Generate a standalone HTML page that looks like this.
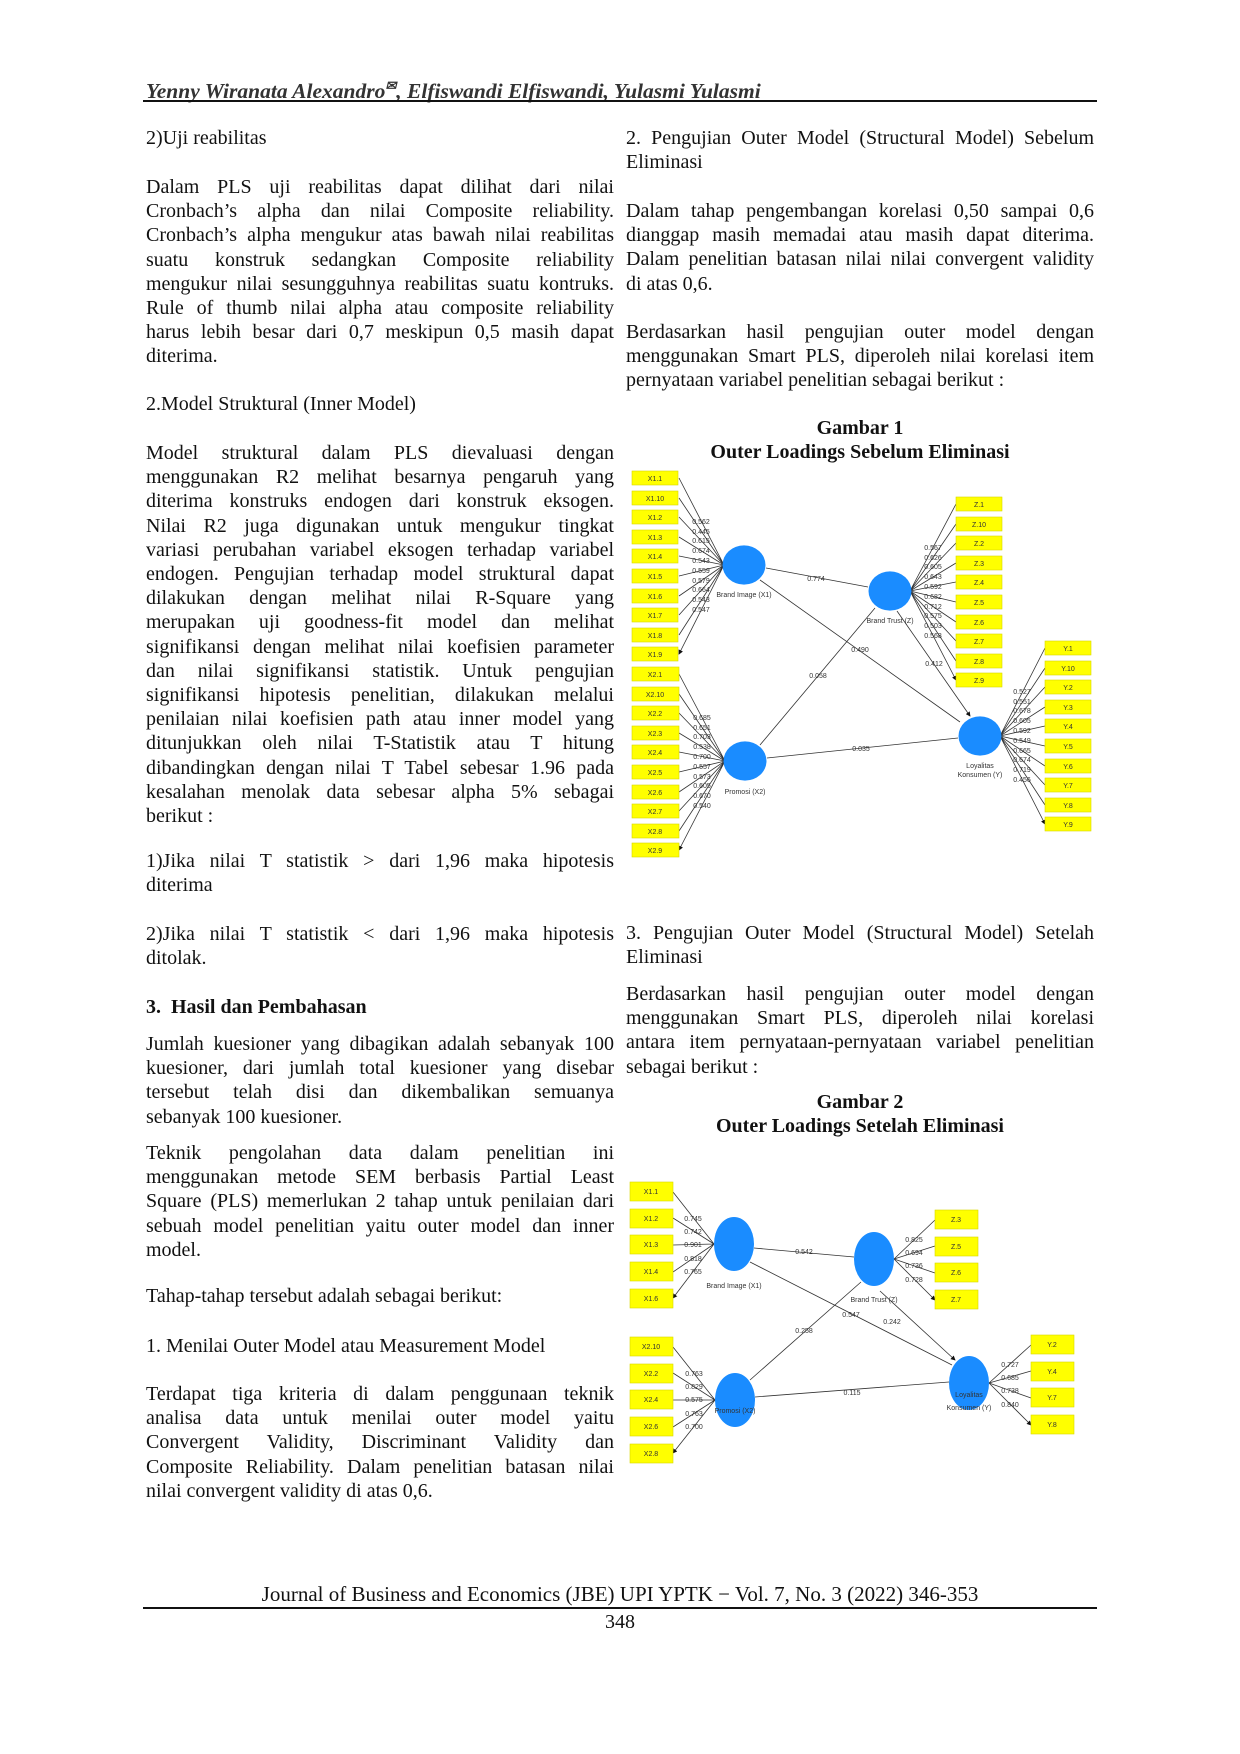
<!DOCTYPE html>
<html><head><meta charset="utf-8"><style>
body{margin:0;background:#fff}
#p{position:relative;width:1240px;height:1754px;overflow:hidden;font-family:"Liberation Serif",serif;font-size:20px;color:#111}
.b{position:absolute;line-height:24.2px}
.L{left:146px;width:468px}
.R{left:626px;width:468px}
.b div{white-space:nowrap}
.b div.j{text-align:justify;text-align-last:justify}
.c{text-align:center;font-weight:bold}
svg{position:absolute;left:0;top:0}
</style></head><body><div id="p">
<div class="b" style="left:146px;top:74px;font-style:italic;font-weight:bold;font-size:21.5px;color:#333">Yenny Wiranata Alexandro<sup style="font-size:13px">✉</sup>, Elfiswandi Elfiswandi, Yulasmi Yulasmi</div>
<div style="position:absolute;left:143px;top:100px;width:954px;height:2px;background:#111"></div>

<div class="b L" style="top:126px"><div>2)Uji reabilitas</div></div>
<div class="b L" style="top:175px">
<div class="j">Dalam PLS uji reabilitas dapat dilihat dari nilai</div>
<div class="j">Cronbach’s alpha dan nilai Composite reliability.</div>
<div class="j">Cronbach’s alpha mengukur atas bawah nilai reabilitas</div>
<div class="j">suatu konstruk sedangkan Composite reliability</div>
<div class="j">mengukur nilai sesungguhnya reabilitas suatu kontruks.</div>
<div class="j">Rule of thumb nilai alpha atau composite reliability</div>
<div class="j">harus lebih besar dari 0,7 meskipun 0,5 masih dapat</div>
<div>diterima.</div></div>
<div class="b L" style="top:392px"><div>2.Model Struktural (Inner Model)</div></div>
<div class="b L" style="top:441px">
<div class="j">Model struktural dalam PLS dievaluasi dengan</div>
<div class="j">menggunakan R2 melihat besarnya pengaruh yang</div>
<div class="j">diterima konstruks endogen dari konstruk eksogen.</div>
<div class="j">Nilai R2 juga digunakan untuk mengukur tingkat</div>
<div class="j">variasi perubahan variabel eksogen terhadap variabel</div>
<div class="j">endogen. Pengujian terhadap model struktural dapat</div>
<div class="j">dilakukan dengan melihat nilai R-Square yang</div>
<div class="j">merupakan uji goodness-fit model dan melihat</div>
<div class="j">signifikansi dengan melihat nilai koefisien parameter</div>
<div class="j">dan nilai signifikansi statistik. Untuk pengujian</div>
<div class="j">signifikansi hipotesis penelitian, dilakukan melalui</div>
<div class="j">penilaian nilai koefisien path atau inner model yang</div>
<div class="j">ditunjukkan oleh nilai T-Statistik atau T hitung</div>
<div class="j">dibandingkan dengan nilai T Tabel sebesar 1.96 pada</div>
<div class="j">kesalahan menolak data sebesar alpha 5% sebagai</div>
<div>berikut :</div></div>
<div class="b L" style="top:849px"><div class="j">1)Jika nilai T statistik &gt; dari 1,96 maka hipotesis</div><div>diterima</div></div>
<div class="b L" style="top:922px"><div class="j">2)Jika nilai T statistik &lt; dari 1,96 maka hipotesis</div><div>ditolak.</div></div>
<div class="b L" style="top:995px;font-weight:bold"><div>3.&nbsp; Hasil dan Pembahasan</div></div>
<div class="b L" style="top:1032px">
<div class="j">Jumlah kuesioner yang dibagikan adalah sebanyak 100</div>
<div class="j">kuesioner, dari jumlah total kuesioner yang disebar</div>
<div class="j">tersebut telah disi dan dikembalikan semuanya</div>
<div>sebanyak 100 kuesioner.</div></div>
<div class="b L" style="top:1141px">
<div class="j">Teknik pengolahan data dalam penelitian ini</div>
<div class="j">menggunakan metode SEM berbasis Partial Least</div>
<div class="j">Square (PLS) memerlukan 2 tahap untuk penilaian dari</div>
<div class="j">sebuah model penelitian yaitu outer model dan inner</div>
<div>model.</div></div>
<div class="b L" style="top:1284px"><div>Tahap-tahap tersebut adalah sebagai berikut:</div></div>
<div class="b L" style="top:1334px"><div>1. Menilai Outer Model atau Measurement Model</div></div>
<div class="b L" style="top:1382px">
<div class="j">Terdapat tiga kriteria di dalam penggunaan teknik</div>
<div class="j">analisa data untuk menilai outer model yaitu</div>
<div class="j">Convergent Validity, Discriminant Validity dan</div>
<div class="j">Composite Reliability. Dalam penelitian batasan nilai</div>
<div>nilai convergent validity di atas 0,6.</div></div>

<div class="b R" style="top:126px"><div class="j">2. Pengujian Outer Model (Structural Model) Sebelum</div><div>Eliminasi</div></div>
<div class="b R" style="top:199px">
<div class="j">Dalam tahap pengembangan korelasi 0,50 sampai 0,6</div>
<div class="j">dianggap masih memadai atau masih dapat diterima.</div>
<div class="j">Dalam penelitian batasan nilai nilai convergent validity</div>
<div>di atas 0,6.</div></div>
<div class="b R" style="top:320px">
<div class="j">Berdasarkan hasil pengujian outer model dengan</div>
<div class="j">menggunakan Smart PLS, diperoleh nilai korelasi item</div>
<div>pernyataan variabel penelitian sebagai berikut :</div></div>
<div class="b R c" style="top:416px"><div>Gambar 1</div><div>Outer Loadings Sebelum Eliminasi</div></div>
<div class="b R" style="top:921px"><div class="j">3. Pengujian Outer Model (Structural Model) Setelah</div><div>Eliminasi</div></div>
<div class="b R" style="top:982px">
<div class="j">Berdasarkan hasil pengujian outer model dengan</div>
<div class="j">menggunakan Smart PLS, diperoleh nilai korelasi</div>
<div class="j">antara item pernyataan-pernyataan variabel penelitian</div>
<div>sebagai berikut :</div></div>
<div class="b R c" style="top:1090px"><div>Gambar 2</div><div>Outer Loadings Setelah Eliminasi</div></div>

<div class="b" style="left:0;width:1240px;text-align:center;top:1582px;font-size:21px"><div>Journal of Business and Economics (JBE) UPI YPTK − Vol. 7, No. 3 (2022) 346-353</div></div>
<div style="position:absolute;left:143px;top:1607px;width:954px;height:2px;background:#111"></div>
<div class="b" style="left:0;width:1240px;text-align:center;top:1610px"><div>348</div></div>

<svg width="1240" height="1754" font-family="Liberation Sans, sans-serif">
<defs><marker id="a" markerWidth="6" markerHeight="6" refX="5" refY="3" orient="auto"><path d="M0,0L6,3L0,6z" fill="#111"/></marker></defs>
<g stroke="#333" stroke-width="0.8" marker-end="url(#a)" fill="none">
<path d="M724 565L679 478M724 565L679 498M724 565L679 517M724 565L679 537M724 565L679 556M724 565L679 576M724 565L679 596M724 565L679 615M724 565L679 635M724 565L679 654"/>
<path d="M725 761L679 674M725 761L679 694M725 761L679 713M725 761L679 733M725 761L679 752M725 761L679 772M725 761L679 792M725 761L679 811M725 761L679 831M725 761L679 850"/>
<path d="M910 591L956 504M910 591L956 524M910 591L956 543M910 591L956 563M910 591L956 582M910 591L956 602M910 591L956 622M910 591L956 641M910 591L956 661M910 591L956 680"/>
<path d="M1000 736L1045 648M1000 736L1045 668M1000 736L1045 687M1000 736L1045 707M1000 736L1045 726M1000 736L1045 746M1000 736L1045 766M1000 736L1045 785M1000 736L1045 805M1000 736L1045 824"/>
<path d="M766 568L868 587M760 580L960 722M760 745L875 608M767 758L958 738M897 611L970 716"/>
<path d="M714 1244L673 1192M714 1244L673 1218M714 1244L673 1245M714 1244L673 1272M714 1244L673 1298"/>
<path d="M715 1400L673 1347M715 1400L673 1373M715 1400L673 1400M715 1400L673 1427M715 1400L673 1453"/>
<path d="M894 1259L935 1220M894 1259L935 1246M894 1259L935 1273M894 1259L935 1300"/>
<path d="M989 1383L1031 1345M989 1383L1031 1371M989 1383L1031 1398M989 1383L1031 1425"/>
<path d="M754 1248L854 1257M750 1262L952 1365M750 1380L861 1282M755 1397L949 1382M880 1291L955 1360"/>
</g>
<g fill="#1a8cff">
<ellipse cx="744" cy="565" rx="21.5" ry="19.6"/><ellipse cx="890" cy="591" rx="21.5" ry="19.6"/><ellipse cx="745" cy="761" rx="21.5" ry="19.6"/><ellipse cx="980" cy="736" rx="21.5" ry="19.6"/>
<ellipse cx="734" cy="1244" rx="20" ry="27"/><ellipse cx="874" cy="1259" rx="20" ry="27"/><ellipse cx="735" cy="1400" rx="20" ry="27"/><ellipse cx="969" cy="1383" rx="20" ry="27"/>
</g>
<g fill="#ffff00" stroke="#d8d800" stroke-width="0.6">
<rect x="632" y="471" width="46" height="14"/><rect x="632" y="491" width="46" height="14"/><rect x="632" y="510" width="46" height="14"/><rect x="632" y="530" width="46" height="14"/><rect x="632" y="549" width="46" height="14"/><rect x="632" y="569" width="46" height="14"/><rect x="632" y="589" width="46" height="14"/><rect x="632" y="608" width="46" height="14"/><rect x="632" y="628" width="46" height="14"/><rect x="632" y="647" width="46" height="14"/>
<rect x="632" y="667" width="47" height="14"/><rect x="632" y="687" width="47" height="14"/><rect x="632" y="706" width="47" height="14"/><rect x="632" y="726" width="47" height="14"/><rect x="632" y="745" width="47" height="14"/><rect x="632" y="765" width="47" height="14"/><rect x="632" y="785" width="47" height="14"/><rect x="632" y="804" width="47" height="14"/><rect x="632" y="824" width="47" height="14"/><rect x="632" y="843" width="47" height="14"/>
<rect x="956" y="497" width="46" height="14"/><rect x="956" y="517" width="46" height="14"/><rect x="956" y="536" width="46" height="14"/><rect x="956" y="556" width="46" height="14"/><rect x="956" y="575" width="46" height="14"/><rect x="956" y="595" width="46" height="14"/><rect x="956" y="615" width="46" height="14"/><rect x="956" y="634" width="46" height="14"/><rect x="956" y="654" width="46" height="14"/><rect x="956" y="673" width="46" height="14"/>
<rect x="1045" y="641" width="46" height="14"/><rect x="1045" y="661" width="46" height="14"/><rect x="1045" y="680" width="46" height="14"/><rect x="1045" y="700" width="46" height="14"/><rect x="1045" y="719" width="46" height="14"/><rect x="1045" y="739" width="46" height="14"/><rect x="1045" y="759" width="46" height="14"/><rect x="1045" y="778" width="46" height="14"/><rect x="1045" y="798" width="46" height="14"/><rect x="1045" y="817" width="46" height="14"/>
<rect x="630" y="1182" width="43" height="19"/><rect x="630" y="1209" width="43" height="19"/><rect x="630" y="1235" width="43" height="19"/><rect x="630" y="1262" width="43" height="19"/><rect x="630" y="1289" width="43" height="19"/>
<rect x="630" y="1337" width="43" height="19"/><rect x="630" y="1364" width="43" height="19"/><rect x="630" y="1390" width="43" height="19"/><rect x="630" y="1417" width="43" height="19"/><rect x="630" y="1444" width="43" height="19"/>
<rect x="935" y="1210" width="43" height="19"/><rect x="935" y="1237" width="43" height="19"/><rect x="935" y="1263" width="43" height="19"/><rect x="935" y="1290" width="43" height="19"/>
<rect x="1031" y="1335" width="43" height="19"/><rect x="1031" y="1362" width="43" height="19"/><rect x="1031" y="1388" width="43" height="19"/><rect x="1031" y="1415" width="43" height="19"/>
</g>
<g font-size="7" fill="#333" text-anchor="middle">
<text x="655" y="481">X1.1</text><text x="655" y="501">X1.10</text><text x="655" y="520">X1.2</text><text x="655" y="540">X1.3</text><text x="655" y="559">X1.4</text><text x="655" y="579">X1.5</text><text x="655" y="599">X1.6</text><text x="655" y="618">X1.7</text><text x="655" y="638">X1.8</text><text x="655" y="657">X1.9</text>
<text x="655" y="677">X2.1</text><text x="655" y="697">X2.10</text><text x="655" y="716">X2.2</text><text x="655" y="736">X2.3</text><text x="655" y="755">X2.4</text><text x="655" y="775">X2.5</text><text x="655" y="795">X2.6</text><text x="655" y="814">X2.7</text><text x="655" y="834">X2.8</text><text x="655" y="853">X2.9</text>
<text x="979" y="507">Z.1</text><text x="979" y="527">Z.10</text><text x="979" y="546">Z.2</text><text x="979" y="566">Z.3</text><text x="979" y="585">Z.4</text><text x="979" y="605">Z.5</text><text x="979" y="625">Z.6</text><text x="979" y="644">Z.7</text><text x="979" y="664">Z.8</text><text x="979" y="683">Z.9</text>
<text x="1068" y="651">Y.1</text><text x="1068" y="671">Y.10</text><text x="1068" y="690">Y.2</text><text x="1068" y="710">Y.3</text><text x="1068" y="729">Y.4</text><text x="1068" y="749">Y.5</text><text x="1068" y="769">Y.6</text><text x="1068" y="788">Y.7</text><text x="1068" y="808">Y.8</text><text x="1068" y="827">Y.9</text>
<text x="651" y="1194">X1.1</text><text x="651" y="1221">X1.2</text><text x="651" y="1247">X1.3</text><text x="651" y="1274">X1.4</text><text x="651" y="1301">X1.6</text>
<text x="651" y="1349">X2.10</text><text x="651" y="1376">X2.2</text><text x="651" y="1402">X2.4</text><text x="651" y="1429">X2.6</text><text x="651" y="1456">X2.8</text>
<text x="956" y="1222">Z.3</text><text x="956" y="1249">Z.5</text><text x="956" y="1275">Z.6</text><text x="956" y="1302">Z.7</text>
<text x="1052" y="1347">Y.2</text><text x="1052" y="1374">Y.4</text><text x="1052" y="1400">Y.7</text><text x="1052" y="1427">Y.8</text>
<text x="701" y="524">0.562</text><text x="701" y="534">0.445</text><text x="701" y="543">0.615</text><text x="701" y="553">0.674</text><text x="701" y="563">0.543</text><text x="701" y="573">0.559</text><text x="701" y="583">0.579</text><text x="701" y="592">0.664</text><text x="701" y="602">0.543</text><text x="701" y="612">0.547</text>
<text x="702" y="720">0.685</text><text x="702" y="730">0.651</text><text x="702" y="739">0.703</text><text x="702" y="749">0.538</text><text x="702" y="759">0.700</text><text x="702" y="769">0.557</text><text x="702" y="779">0.573</text><text x="702" y="788">0.605</text><text x="702" y="798">0.670</text><text x="702" y="808">0.540</text>
<text x="933" y="550">0.567</text><text x="933" y="560">0.626</text><text x="933" y="569">0.605</text><text x="933" y="579">0.643</text><text x="933" y="589">0.592</text><text x="933" y="599">0.682</text><text x="933" y="609">0.712</text><text x="933" y="618">0.575</text><text x="933" y="628">0.503</text><text x="933" y="638">0.568</text>
<text x="1022" y="694">0.527</text><text x="1022" y="704">0.551</text><text x="1022" y="713">0.678</text><text x="1022" y="723">0.605</text><text x="1022" y="733">0.592</text><text x="1022" y="743">0.549</text><text x="1022" y="753">0.665</text><text x="1022" y="762">0.674</text><text x="1022" y="772">0.719</text><text x="1022" y="782">0.456</text>
<text x="693" y="1221">0.745</text><text x="693" y="1234">0.742</text><text x="693" y="1247">0.901</text><text x="693" y="1261">0.818</text><text x="693" y="1274">0.765</text>
<text x="694" y="1376">0.763</text><text x="694" y="1389">0.829</text><text x="694" y="1402">0.575</text><text x="694" y="1416">0.763</text><text x="694" y="1429">0.700</text>
<text x="914" y="1242">0.825</text><text x="914" y="1255">0.694</text><text x="914" y="1268">0.736</text><text x="914" y="1282">0.728</text>
<text x="1010" y="1367">0.727</text><text x="1010" y="1380">0.685</text><text x="1010" y="1393">0.738</text><text x="1010" y="1407">0.840</text>
<text x="816" y="581">0.774</text><text x="860" y="652">0.490</text><text x="818" y="678">0.058</text><text x="934" y="666">0.412</text><text x="861" y="751">0.035</text>
<text x="804" y="1254">0.542</text><text x="851" y="1317">0.547</text><text x="804" y="1333">0.258</text><text x="892" y="1324">0.242</text><text x="852" y="1395">0.115</text>
<text x="744" y="597">Brand Image (X1)</text><text x="890" y="623">Brand Trust (Z)</text><text x="745" y="794">Promosi (X2)</text><text x="980" y="768">Loyalitas</text><text x="980" y="777">Konsumen (Y)</text>
<text x="734" y="1288">Brand Image (X1)</text><text x="874" y="1302">Brand Trust (Z)</text><text x="735" y="1413">Promosi (X2)</text><text x="969" y="1397">Loyalitas</text><text x="969" y="1410">Konsumen (Y)</text>
</g>
</svg>
</div></body></html>
